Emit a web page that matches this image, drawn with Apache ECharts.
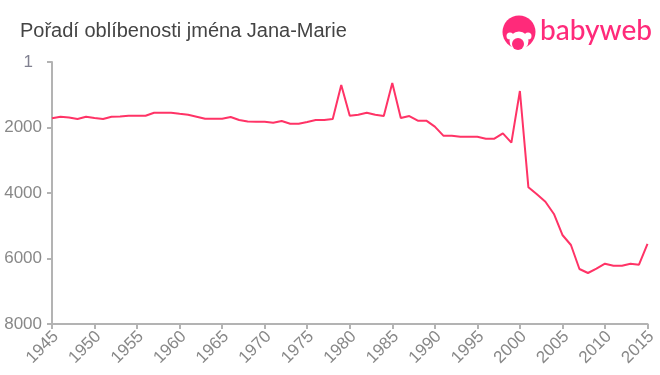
<!DOCTYPE html>
<html><head><meta charset="utf-8">
<style>html,body{margin:0;padding:0;background:#fff}#c{width:660px;height:375px}</style>
<script src="https://cdn.jsdelivr.net/npm/echarts@6/dist/echarts.min.js"></script>
</head><body><div id="c"></div>
<script>
const titleText = "Pořadí oblíbenosti jména Jana-Marie";
const brandText = "babyweb";
const years = [];
for (let y = 1945; y <= 2015; y++) years.push(String(y));
const ranks = [1719,1670,1695,1740,1670,1710,1740,1670,1665,1640,1640,1640,1548,1548,1548,1579,1609,1670,1731,1731,1731,
1680,1771,1817,1823,1823,1853,1802,1884,1884,1832,1771,1771,1740,702,1640,1609,1548,1609,1649,641,1710,1649,1792,1792,1975,
2250,2250,2281,2281,2281,2342,2342,2177,2464,886,3826,4040,4266,4641,5282,5588,6321,6443,6311,6159,6220,6220,6159,6189,5557];
const yTickLabels = {0:"{one|1}",2000:"2000",4000:"4000",6000:"6000",8000:"8000"};
const pink = "#ff3366";
const logo = "#ff2a7a";
const chart = echarts.init(document.getElementById('c'), null, {renderer:'canvas'});
chart.setOption({
  animation:false,
  backgroundColor:"#fff",
  title:{text:titleText,left:20,top:21,padding:0,textStyle:{fontFamily:"Liberation Sans",fontSize:20,fontWeight:"normal",color:"#444"}},
  grid:{left:52,right:12.5,top:62,bottom:51,containLabel:false},
  xAxis:{type:"category",data:years,boundaryGap:false,position:"bottom",
    axisLine:{onZero:false,lineStyle:{color:"#b3b3b3",width:2}},
    axisTick:{alignWithLabel:true,length:5,interval:4,lineStyle:{color:"#b3b3b3",width:2}},
    axisLabel:{interval:4,rotate:45,margin:6,verticalAlign:"top",lineHeight:11,fontFamily:"Liberation Sans",fontSize:17,color:"#888"},
    splitLine:{show:false}},
  yAxis:{type:"value",inverse:true,min:0,max:8000,interval:2000,
    axisLine:{show:true,lineStyle:{color:"#b3b3b3",width:2}},
    axisTick:{show:true,length:5,lineStyle:{color:"#b3b3b3",width:2}},
    axisLabel:{margin:10,fontFamily:"Liberation Sans",fontSize:17,color:"#888",formatter:v=>yTickLabels[v],
      rich:{one:{fontFamily:"Liberation Sans",fontSize:17,color:"#808090",padding:[0,9,0,0]}}},
    splitLine:{show:false}},
  series:[{type:"line",data:ranks,symbol:"none",smooth:false,lineStyle:{color:pink,width:2}}],
  graphic:[
    {type:"circle",shape:{cx:519,cy:32,r:16.5},style:{fill:logo}},
    {type:"circle",shape:{cx:519,cy:41,r:9.5},style:{fill:"#fff"}},
    {type:"circle",shape:{cx:510,cy:36,r:3.5},style:{fill:"#fff"}},
    {type:"circle",shape:{cx:528,cy:36,r:3.5},style:{fill:"#fff"}},
    {type:"circle",shape:{cx:518,cy:44,r:6},style:{fill:logo}},
    {type:"text",left:540,top:17,style:{text:brandText,fontFamily:"Lato",fontSize:28,fontWeight:500,fill:logo}}
  ]
});
</script></body></html>
